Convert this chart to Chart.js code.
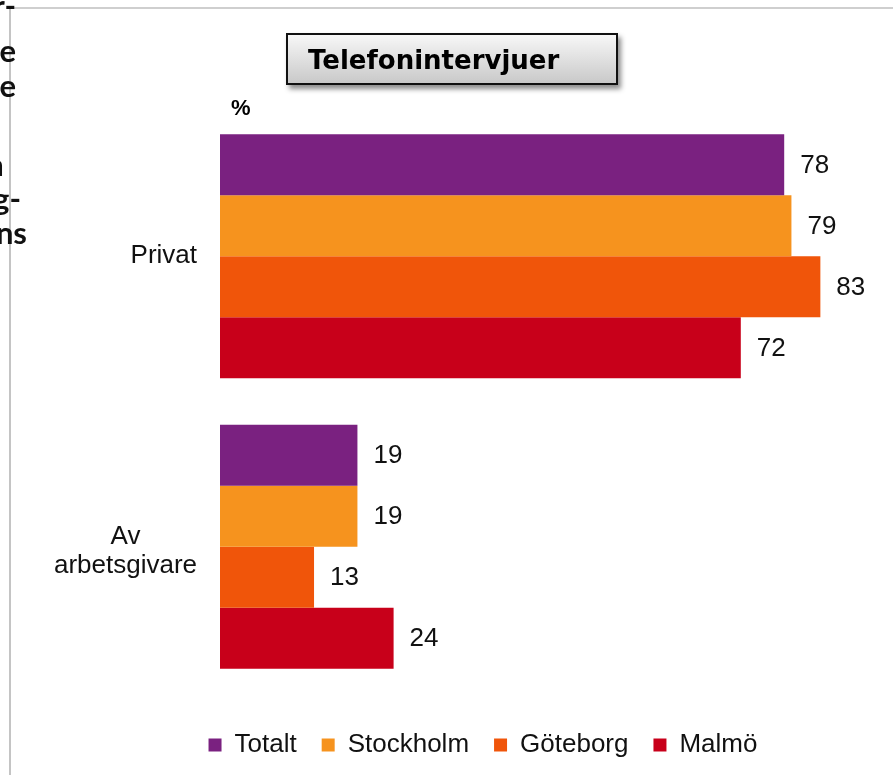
<!DOCTYPE html>
<html>
<head>
<meta charset="utf-8">
<script src="https://cdn.jsdelivr.net/npm/chart.js@4"></script>
<style>
  html, body { margin: 0; padding: 0; background: #fff; }
  #wrap { position: relative; width: 893px; height: 775px; overflow: hidden; }
  #myChart { position: absolute; left: 0; top: 0; }
  .frag { position: absolute; font-family: Lato, "Open Sans", sans-serif; font-weight: bold; font-size: 31px; line-height: 31px; white-space: nowrap; color: #111; }
  #vline { position: absolute; left: 9px; top: 8px; width: 2px; height: 767px; background: #c4c4c4; }
  #hline { position: absolute; left: 9px; top: 7px; width: 884px; height: 2px; background: #cfcfcf; }
  #titleBox { position: absolute; left: 286px; top: 33px; height: 48px; border: 2px solid #111;
    background: linear-gradient(#f7f7f7, #c9c9c9); box-shadow: 3px 4px 5px rgba(0,0,0,0.45);
    font-family: "DejaVu Sans", Verdana, sans-serif; font-weight: bold; font-size: 26px; line-height: 50px; padding-left: 20px; width: 308px; }
  #pct { position: absolute; left: 231px; top: 95px; font-family: "Liberation Sans", Arial, sans-serif; font-weight: bold; font-size: 22px; }
</style>
</head>
<body>
<div id="wrap">
  <canvas id="myChart" width="893" height="775"></canvas>
  <div id="vline"></div>
  <div id="hline"></div>
  <div class="frag" style="top:-10px; right:877px">r-</div>
  <div class="frag" style="top:35px; right:877px">e</div>
  <div class="frag" style="top:70px; right:877px">e</div>
  <div class="frag" style="top:149px; right:889px; font-weight:normal">n</div>
  <div class="frag" style="top:183px; right:872px">g-</div>
  <div class="frag" style="top:217px; right:866px">ns</div>
  <div id="titleBox">Telefonintervjuer</div>
  <div id="pct">%</div>
</div>
<script>
// Kategorier och serier
var kategorier = [['Privat'], ['Av', 'arbetsgivare']];
var serier = ['Totalt', 'Stockholm', 'Göteborg', 'Malmö'];
var totalt = [78, 19];
var stockholm = [79, 19];
var goteborg = [83, 13];
var malmo = [72, 24];
var farger = ['#7a2180', '#f6931e', '#f0550a', '#c8001a'];

var ctx = document.getElementById('myChart').getContext('2d');

// Etiketter vid staplarna och kategorinamn till vänster
var etiketter = {
    id: 'etiketter',
    afterDatasetsDraw: function(chart) {
        var c = chart.ctx;
        c.save();
        c.fillStyle = '#111';
        c.font = '26px "Liberation Sans", Arial, sans-serif';
        c.textBaseline = 'middle';
        c.textAlign = 'left';
        chart.data.datasets.forEach(function(ds, i) {
            chart.getDatasetMeta(i).data.forEach(function(bar, j) {
                c.fillText(ds.data[j], bar.x + 16, bar.y + 1);
            });
        });
        var y = chart.scales.y;
        c.textAlign = 'center';
        kategorier.forEach(function(lab, j) {
            var py = y.getPixelForValue(j);
            var w = 0;
            lab.forEach(function(t) { w = Math.max(w, c.measureText(t).width); });
            var cx = 197 - w / 2;
            var off = lab.length > 1 ? 5 : 0;
            lab.forEach(function(t, k) {
                c.fillText(t, cx, py + off + (k - (lab.length - 1) / 2) * 29);
            });
        });
        c.restore();
    }
};

var data = {
    labels: kategorier.map(function(l) { return l.join(' '); }),
    datasets: [
        { label: serier[0], data: totalt, backgroundColor: farger[0] },
        { label: serier[1], data: stockholm, backgroundColor: farger[1] },
        { label: serier[2], data: goteborg, backgroundColor: farger[2] },
        { label: serier[3], data: malmo, backgroundColor: farger[3] }
    ]
};

var options = {
    indexAxis: 'y',
    responsive: false,
    animation: false,
    layout: { padding: { left: 95, right: 22, top: 111, bottom: 7 } },
    datasets: { bar: { categoryPercentage: 0.84, barPercentage: 1.0 } },
    scales: {
        x: { display: false, min: 0, max: 90 },
        y: {
            display: true,
            grid: { display: false, drawTicks: false },
            border: { display: false },
            ticks: { display: false },
            afterFit: function(s) { s.width = 125; }
        }
    },
    plugins: {
        legend: {
            position: 'bottom',
            title: { display: true, text: '', font: { size: 1, lineHeight: 1 }, padding: { top: 10, bottom: 4 } },
            labels: {
                boxWidth: 13, boxHeight: 13, padding: 25, color: '#111',
                font: { family: '"Liberation Sans", Arial, sans-serif', size: 26 }
            }
        },
        tooltip: { enabled: false }
    }
};

var myChart = new Chart(ctx, {
    type: 'bar',
    data: data,
    options: options,
    plugins: [etiketter]
});
</script>
</body>
</html>
